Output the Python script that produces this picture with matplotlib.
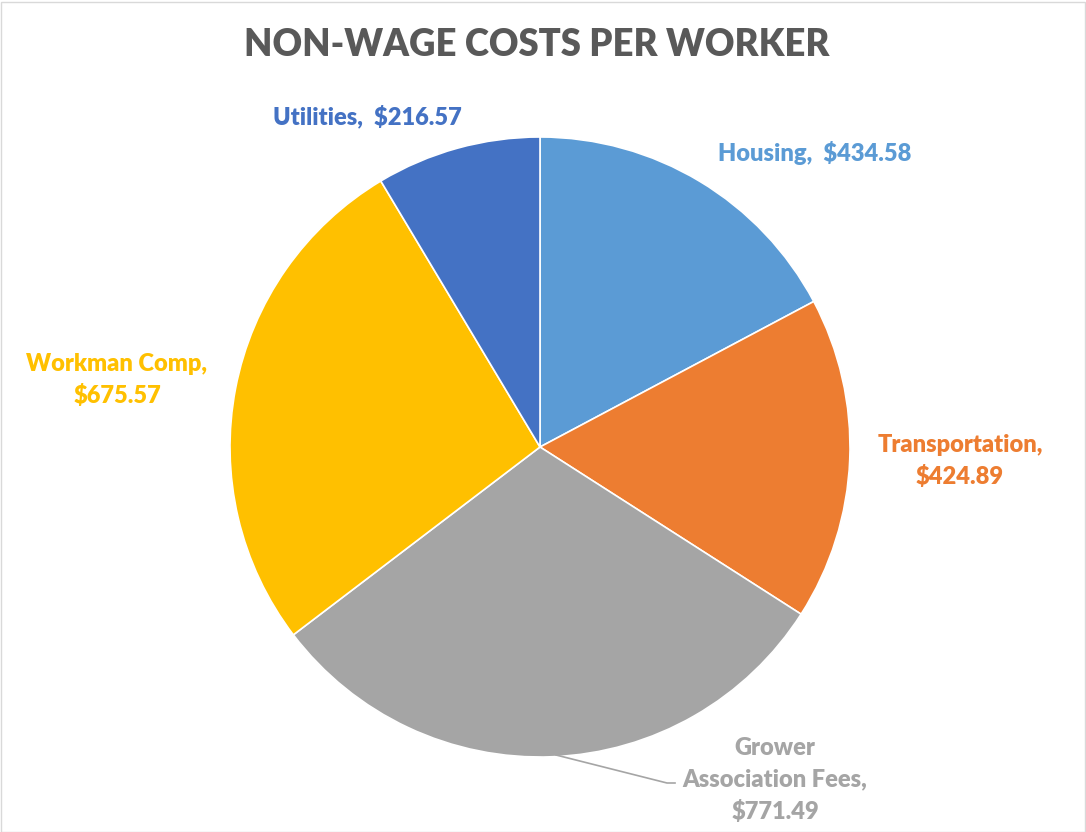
import matplotlib
matplotlib.use("Agg")
import matplotlib.pyplot as plt
import numpy as np

categories = ["Housing", "Transportation", "Grower Association Fees", "Workman Comp", "Utilities"]
values = [434.58, 424.89, 771.49, 675.57, 216.57]
colors = ["#5B9BD5", "#ED7D31", "#A5A5A5", "#FFC000", "#4472C4"]
label_texts = ["Housing,  $434.58", "Transportation,\n$424.89", "Grower\nAssociation Fees,\n$771.49",
               "Workman Comp,\n$675.57", "Utilities,  $216.57"]

plt.rcParams['font.family'] = ['Lato', 'DejaVu Sans']

W, H = 1086, 832
fig = plt.figure(figsize=(W / 100, H / 100), dpi=100)
ax = fig.add_axes([0, 0, 1, 1])

cx, cy, r = 540, H - 447, 310
wedges, _ = ax.pie(values, colors=colors, startangle=90, counterclock=False,
                   center=(cx, cy), radius=r, frame=True,
                   wedgeprops=dict(edgecolor='white', linewidth=1.2))
ax.set_xlim(0, W)
ax.set_ylim(0, H)
ax.set_aspect('equal')
ax.axis('off')

# label positions (pixel coords, y from top)
label_pos = [(815, 153), (960, 461), (775, 780), (117, 380), (367, 116)]
for txt, (lx, ly), c in zip(label_texts, label_pos, colors):
    ax.text(lx, H - ly, txt, color=c, fontsize=17, fontweight='heavy',
            ha='center', va='center', linespacing=1.5)

# leader line for Grower label
ax.plot([556, 667, 675], [H - 755, H - 783, H - 783], color='#A5A5A5', lw=1.2)

ax.text(W / 2 - 6, H - 45, "NON-WAGE COSTS PER WORKER", color='#595959',
        fontsize=26.3, fontweight='heavy', ha='center', va='center')

# border
fig.patches.append(plt.Rectangle((0.5 / W, 0.5 / H), 1 - 2 / W, 1 - 2 / H, transform=fig.transFigure,
                                 fill=False, edgecolor='#D9D9D9', lw=1))

fig.savefig("out.png", dpi=100)
